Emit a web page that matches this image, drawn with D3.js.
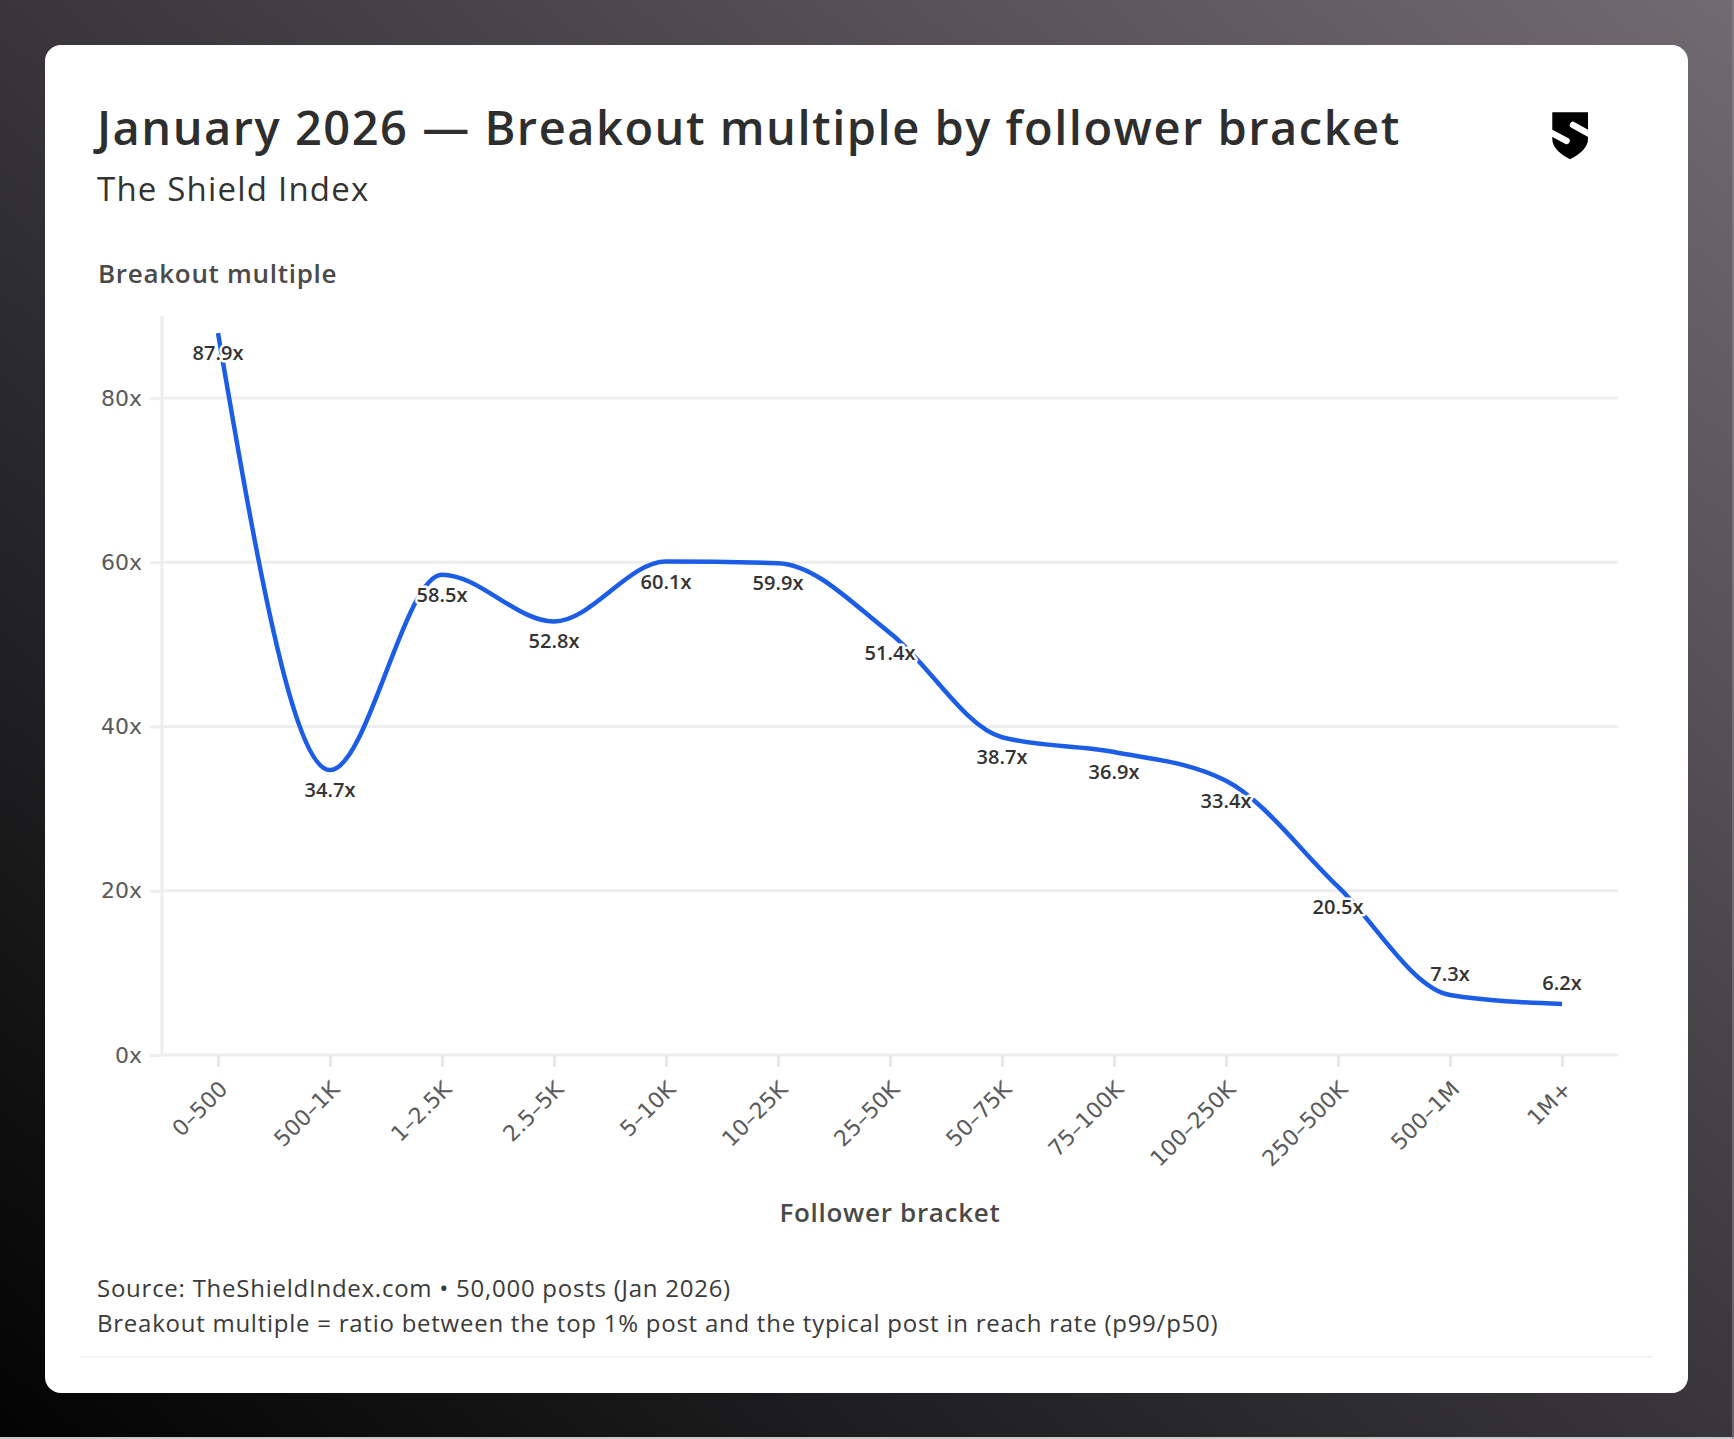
<!DOCTYPE html>
<html><head><meta charset="utf-8">
<script src="https://cdn.jsdelivr.net/npm/d3@7"></script>
<style>
html,body{margin:0;padding:0;background:#000;}
svg{display:block;}
</style></head>
<body>
<svg id="chart" width="1734" height="1439"></svg>
<script>
// ---- data ----
const categories = ["0–500","500–1K","1–2.5K","2.5–5K","5–10K","10–25K","25–50K","50–75K","75–100K","100–250K","250–500K","500–1M","1M+"];
const breakoutMultiple = [87.9,34.7,58.5,52.8,60.1,59.9,51.4,38.7,36.9,33.4,20.5,7.3,6.2];
const yTicks = [0,20,40,60,80];
const yDomain = [0,90];
const titleText = "January 2026 — Breakout multiple by follower bracket";
const subtitleText = "The Shield Index";
const yAxisTitle = "Breakout multiple";
const xAxisTitle = "Follower bracket";
const footerLines = [
  "Source: TheShieldIndex.com • 50,000 posts (Jan 2026)",
  "Breakout multiple = ratio between the top 1% post and the typical post in reach rate (p99/p50)"
];

const FONT = "'Open Sans','Noto Sans',sans-serif";
const TICKFONT = "'DejaVu Sans','Open Sans',sans-serif";
const W = 1734, H = 1439;
const svg = d3.select("#chart");
const defs = svg.append("defs");

// background gradient
const bg = defs.append("linearGradient").attr("id","bg")
  .attr("x1","100%").attr("y1","0%").attr("x2","0%").attr("y2","100%");
bg.append("stop").attr("offset","0%").attr("stop-color","#716b71");
bg.append("stop").attr("offset","50%").attr("stop-color","#38363a");
bg.append("stop").attr("offset","100%").attr("stop-color","#030303");
svg.append("rect").attr("width",W).attr("height",H).attr("fill","url(#bg)");
svg.append("rect").attr("x",0).attr("y",H-2).attr("width",W).attr("height",2).attr("fill","#c9c9c9");
svg.append("rect").attr("x",W-2).attr("y",0).attr("width",2).attr("height",H).attr("fill","#8a868a").attr("opacity",0.6);

// card
svg.append("rect").attr("x",45).attr("y",45).attr("width",1643).attr("height",1348)
  .attr("rx",16).attr("fill","#ffffff");

// titles
svg.append("text").attr("x",97).attr("y",145).text(titleText)
  .attr("font-family",FONT).attr("font-size",47).attr("font-weight",600)
  .attr("letter-spacing",1.5).attr("fill","#2e2e2e");
svg.append("text").attr("x",97).attr("y",201).text(subtitleText)
  .attr("font-family",FONT).attr("font-size",33).attr("font-weight",400)
  .attr("letter-spacing",1.2).attr("fill","#333");

// logo
const logo = svg.append("g");
logo.append("path")
  .attr("d","M1552.3,112.3 H1588 V139 Q1588,150 1570,159.3 Q1552.3,150 1552.3,139 Z")
  .attr("fill","#000");
logo.append("line").attr("x1",1548).attr("y1",131).attr("x2",1566.5).attr("y2",140.8)
  .attr("stroke","#fff").attr("stroke-width",6.5).attr("stroke-linecap","round");
logo.append("line").attr("x1",1573).attr("y1",125).attr("x2",1592).attr("y2",135.5)
  .attr("stroke","#fff").attr("stroke-width",6.5).attr("stroke-linecap","round");

// scales
const x = d3.scalePoint().domain(categories).range([162,1618]).padding(0.5);
const y = d3.scaleLinear().domain(yDomain).range([1055,316]);

// y axis title
svg.append("text").attr("x",98).attr("y",283).text(yAxisTitle)
  .attr("font-family",FONT).attr("font-size",26).attr("font-weight",600)
  .attr("letter-spacing",0.7).attr("fill","#4a4a4a");

// grid
svg.append("g").selectAll("line").data(yTicks.filter(d=>d>0)).join("line")
  .attr("x1",162).attr("x2",1618).attr("y1",d=>y(d)).attr("y2",d=>y(d))
  .attr("stroke","#eeeeee").attr("stroke-width",3);

// y axis
const yAxis = svg.append("g").attr("transform","translate(162,0)")
  .call(d3.axisLeft(y).tickValues(yTicks).tickFormat(d=>d+"x").tickSize(12).tickPadding(8));
yAxis.select(".domain").attr("stroke","#eeeeee").attr("stroke-width",3).attr("d","M0,1055V316");
yAxis.selectAll(".tick line").attr("stroke","#eeeeee").attr("stroke-width",3);
yAxis.selectAll(".tick text").attr("font-family",TICKFONT).attr("font-size",22).attr("fill","#5a5a5a");

// x axis
const xAxis = svg.append("g").attr("transform","translate(0,1055)")
  .call(d3.axisBottom(x).tickSize(12).tickSizeOuter(0));
xAxis.select(".domain").attr("stroke","#eeeeee").attr("stroke-width",3).attr("d","M162,0H1618");
xAxis.selectAll(".tick line").attr("stroke","#e8e8e8").attr("stroke-width",3);
xAxis.selectAll(".tick text")
  .attr("font-family",TICKFONT).attr("font-size",22).attr("fill","#5a5a5a")
  .attr("text-anchor","end").attr("y",0).attr("dy","0.35em")
  .attr("transform","translate(5,30) rotate(-45)");

// x axis title
svg.append("text").attr("x",890).attr("y",1222).attr("text-anchor","middle").text(xAxisTitle)
  .attr("font-family",FONT).attr("font-size",26).attr("font-weight",600)
  .attr("letter-spacing",0.7).attr("fill","#4a4a4a");

// line
const pts = categories.map((c,i)=>({c, v: breakoutMultiple[i]}));
const line = d3.line().x(d=>x(d.c)).y(d=>y(d.v)).curve(d3.curveMonotoneX);
svg.append("path").datum(pts).attr("d",line)
  .attr("fill","none").attr("stroke","#1c5de6").attr("stroke-width",4.5);

// value labels
svg.append("g").selectAll("text").data(pts).join("text")
  .attr("x",d=>x(d.c))
  .attr("y",d=> d.v < 10 ? y(d.v)-14 : y(d.v)+27)
  .attr("text-anchor","middle")
  .text(d=>d.v.toFixed(1)+"x")
  .attr("font-family",FONT).attr("font-size",20).attr("font-weight",600).attr("fill","#333")
  .attr("stroke","#fff").attr("stroke-width",5).attr("stroke-linejoin","round")
  .attr("paint-order","stroke");

// footer
svg.append("g").selectAll("text").data(footerLines).join("text")
  .attr("x",97).attr("y",(d,i)=>1297+i*35).text(d=>d)
  .attr("font-family",FONT).attr("font-size",24).attr("letter-spacing",0.75).attr("fill","#3a3a3a");
svg.append("line").attr("x1",80).attr("x2",1653).attr("y1",1357).attr("y2",1357)
  .attr("stroke","#f1f1f1").attr("stroke-width",1.5);
</script>
</body></html>
